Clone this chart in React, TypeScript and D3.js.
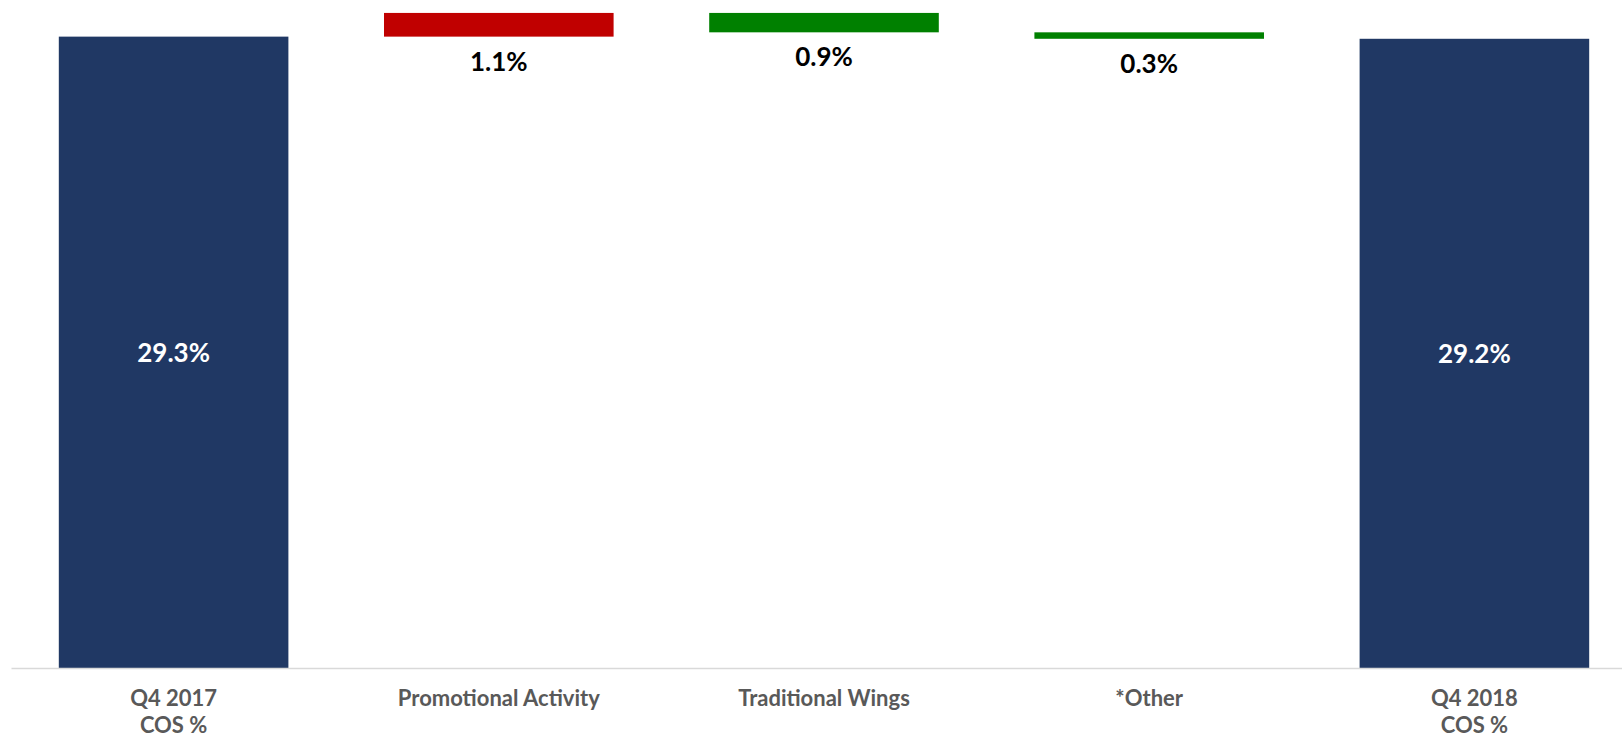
import React, { useRef, useEffect } from "react";
import * as d3 from "d3";

// waterfall: Q4 2017 -> Q4 2018 cost of sales %
const categories = ["Q4 2017\nCOS %", "Promotional Activity", "Traditional Wings", "*Other", "Q4 2018\nCOS %"];
const values = [29.3, 1.1, -0.9, -0.3, 29.2];
const kinds = ["total", "up", "down", "down", "total"];
const valueLabels = ["29.3%", "1.1%", "0.9%", "0.3%", "29.2%"];

const colors = { total: "#203864", up: "#C00000", down: "#008000" };

const WaterfallChart = () => {
  const ref = useRef<SVGSVGElement>(null);
  const width = 1622;
  const height = 739;
  const baseY = 668;

  useEffect(() => {
    const svg = d3.select(ref.current);
    svg.selectAll("*").remove();

    // running totals for the floating bars
    let running = 0;
    const rows = values.map((v, i) => {
      let lo, hi;
      if (kinds[i] === "total") {
        lo = 0;
        hi = v;
        running = v;
      } else {
        const next = running + v;
        lo = Math.min(running, next);
        hi = Math.max(running, next);
        running = next;
      }
      return { i, lo, hi, kind: kinds[i], label: valueLabels[i] };
    });

    const xScale = d3
      .scaleBand<number>()
      .domain(d3.range(categories.length))
      .range([11, 1637])
      .paddingInner(0.294)
      .paddingOuter(0.147);

    const yScale = d3.scaleLinear().domain([0, 31]).range([baseY, 0]);

    svg
      .selectAll(".bar")
      .data(rows)
      .enter()
      .append("rect")
      .attr("x", (d) => xScale(d.i))
      .attr("width", xScale.bandwidth())
      .attr("y", (d) => yScale(d.hi))
      .attr("height", (d) => yScale(d.lo) - yScale(d.hi))
      .attr("fill", (d) => colors[d.kind]);

    // category axis, line only
    const axis = svg
      .append("g")
      .attr("transform", `translate(0,${baseY})`)
      .call(d3.axisBottom(xScale).tickSize(0).tickFormat(() => ""));
    axis.select(".domain").attr("stroke", "#D9D9D9").attr("stroke-width", 1.5);

    const cat = svg
      .selectAll(".cat")
      .data(categories)
      .enter()
      .append("text")
      .attr("text-anchor", "middle")
      .attr("font-family", "Lato, 'Open Sans', sans-serif")
      .attr("font-weight", "bold")
      .attr("font-size", 22)
      .attr("fill", "#595959")
      .attr("x", (d, i) => xScale(i) + xScale.bandwidth() / 2)
      .attr("y", 706);
    cat
      .selectAll("tspan")
      .data((d) => d.split("\n"))
      .enter()
      .append("tspan")
      .attr("x", function () {
        return (this.parentNode as SVGTextElement).getAttribute("x");
      })
      .attr("dy", (d, j) => (j === 0 ? 0 : 27))
      .text((d) => d);

    svg
      .selectAll(".val")
      .data(rows)
      .enter()
      .append("text")
      .attr("text-anchor", "middle")
      .attr("font-family", "Lato, 'Open Sans', sans-serif")
      .attr("font-weight", "bold")
      .attr("font-size", 26)
      .attr("fill", (d) => (d.kind === "total" ? "#FFFFFF" : "#000000"))
      .attr("x", (d) => xScale(d.i) + xScale.bandwidth() / 2)
      .attr("y", (d) =>
        d.kind === "total"
          ? (yScale(d.hi) + yScale(d.lo)) / 2 + 9.5
          : yScale(d.lo) + 34
      )
      .text((d) => d.label);
  }, []);

  return (
    <svg
      ref={ref}
      width={width}
      height={height}
      style={{ position: "absolute", left: 0, top: 0, background: "#fff" }}
    ></svg>
  );
};

export default function App() {
  return <WaterfallChart />;
}
